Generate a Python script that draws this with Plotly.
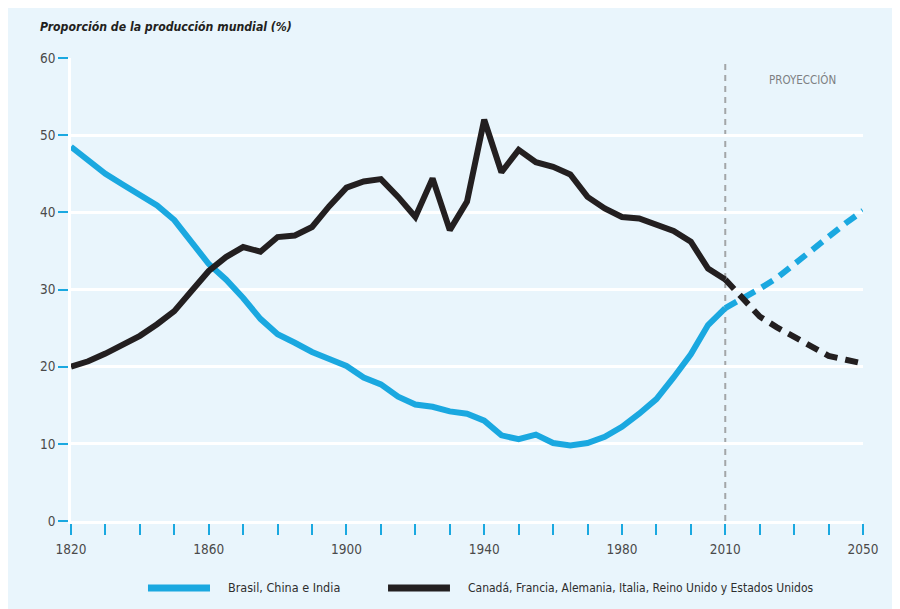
import plotly.graph_objects as go

# ---- data ----
years_hist = [1820, 1825, 1830, 1835, 1840, 1845, 1850, 1855, 1860, 1865, 1870, 1875,
              1880, 1885, 1890, 1895, 1900, 1905, 1910, 1915, 1920, 1925, 1930, 1935,
              1940, 1945, 1950, 1955, 1960, 1965, 1970, 1975, 1980, 1985, 1990, 1995,
              2000, 2005, 2010]
bci_hist = [48.5, 46.8, 45.0, 43.6, 42.2, 40.9, 39.0, 36.0, 33.3, 31.3, 28.9, 26.2,
            24.2, 23.1, 21.9, 21.0, 20.1, 18.6, 17.7, 16.1, 15.1, 14.8, 14.2, 13.9,
            13.0, 11.1, 10.6, 11.2, 10.1, 9.8, 10.1, 10.9, 12.2, 13.9, 15.8, 18.6,
            21.6, 25.4, 27.6]
g6_hist = [20.0, 20.7, 21.7, 22.9, 24.0, 25.5, 27.2, 29.8, 32.4, 34.2, 35.5, 34.9,
           36.8, 37.0, 38.1, 40.8, 43.2, 44.0, 44.3, 42.0, 39.4, 44.4, 37.7, 41.4,
           52.0, 45.2, 48.1, 46.5, 45.9, 44.9, 42.0, 40.5, 39.4, 39.2, 38.3, 37.6,
           36.2, 32.7, 31.3]

years_proj = [2010, 2015, 2020, 2025, 2030, 2035, 2040, 2045, 2050]
bci_proj = [27.6, 28.8, 30.1, 31.5, 33.3, 35.2, 37.0, 38.6, 40.2]
g6_proj = [31.3, 28.8, 26.5, 25.1, 23.9, 22.5, 21.4, 20.9, 20.4]

series_names = ["Brasil, China e India",
                "Canadá, Francia, Alemania, Italia, Reino Unido y Estados Unidos"]
y_title = "Proporción de la producción mundial (%)"
proj_label = "PROYECCIÓN"
proj_year = 2010

x_tick_vals = list(range(1820, 2051, 10))
x_label_years = [1820, 1860, 1900, 1940, 1980, 2010, 2050]
y_tick_vals = [0, 10, 20, 30, 40, 50, 60]

BLUE = "#1AA8E0"
BLACK = "#231F20"
BG = "#E9F5FC"
FONT = "Liberation Sans Narrow, DejaVu Sans Condensed, Liberation Sans, sans-serif"
PROJ_DASH = "13px,8px"

fig = go.Figure()
fig.add_trace(go.Scatter(x=years_hist, y=bci_hist, mode="lines", name=series_names[0],
                         line=dict(color=BLUE, width=6), showlegend=False))
fig.add_trace(go.Scatter(x=years_hist, y=g6_hist, mode="lines", name=series_names[1],
                         line=dict(color=BLACK, width=6), showlegend=False))
fig.add_trace(go.Scatter(x=years_proj, y=bci_proj, mode="lines", name=series_names[0],
                         line=dict(color=BLUE, width=6, dash=PROJ_DASH), showlegend=False))
fig.add_trace(go.Scatter(x=years_proj, y=g6_proj, mode="lines", name=series_names[1],
                         line=dict(color=BLACK, width=6, dash=PROJ_DASH), showlegend=False))

LEG_Y = -0.1447
shapes = [
    # projection divider
    dict(type="line", xref="x", yref="y", x0=proj_year, x1=proj_year, y0=0, y1=59.4,
         line=dict(color="#A3A6A8", width=2, dash="6px,5px"), layer="below"),
    # legend samples
    dict(type="line", xref="paper", yref="paper", x0=0.0972, x1=0.1755, y0=LEG_Y, y1=LEG_Y,
         line=dict(color=BLUE, width=7)),
    dict(type="line", xref="paper", yref="paper", x0=0.4003, x1=0.4785, y0=LEG_Y, y1=LEG_Y,
         line=dict(color=BLACK, width=7)),
]

annotations = [
    dict(text=f"<b><i>{y_title}</i></b>", xref="paper", yref="paper",
         x=(38 - 71) / 792, y=(521 - 27) / 463, xanchor="left", yanchor="middle",
         showarrow=False, font=dict(family=FONT, size=12.2, color="#231F20")),
    dict(text=proj_label, xref="paper", yref="paper", x=0.924, y=(521 - 80) / 463,
         xanchor="center", yanchor="middle", showarrow=False,
         font=dict(family=FONT, size=11.5, color="#7D8082")),
    dict(text=series_names[0], xref="paper", yref="paper", x=(226 - 71) / 792, y=LEG_Y,
         xanchor="left", yanchor="middle", showarrow=False,
         font=dict(family=FONT, size=12.5, color="#2E2E2E")),
    dict(text=series_names[1], xref="paper", yref="paper", x=(466 - 71) / 792, y=LEG_Y,
         xanchor="left", yanchor="middle", showarrow=False,
         font=dict(family=FONT, size=12, color="#2E2E2E")),
]

fig.update_layout(
    width=900, height=609,
    margin=dict(l=63, r=45, t=50, b=96),
    paper_bgcolor=BG,
    plot_bgcolor=BG,
    shapes=shapes,
    annotations=annotations,
    showlegend=False,
    xaxis=dict(
        range=[1820, 2050], tickmode="array", tickvals=x_tick_vals,
        ticktext=[str(v) if v in x_label_years else "" for v in x_tick_vals],
        ticks="outside", ticklen=11, tickwidth=2, tickcolor=BLUE,
        ticklabelstandoff=3,
        showgrid=False, zeroline=False, showline=True, linecolor="white", linewidth=2.5,
        tickfont=dict(family=FONT, size=13.5, color="#4A4A4A"),
        fixedrange=True,
    ),
    yaxis=dict(
        range=[0, 60], tickmode="array", tickvals=y_tick_vals,
        ticks="outside", ticklen=10, tickwidth=2, tickcolor=BLUE,
        showgrid=True, gridcolor="white", gridwidth=2.5,
        zeroline=False, showline=True, linecolor="white", linewidth=2.5,
        tickfont=dict(family=FONT, size=13.5, color="#4A4A4A"),
        fixedrange=True,
    ),
)

fig.write_html("out.html")
